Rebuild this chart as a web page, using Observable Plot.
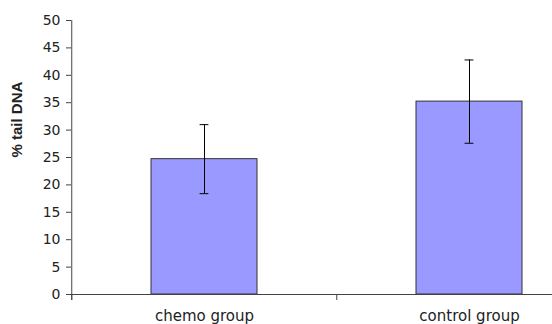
<!DOCTYPE html>
<html>
<head>
<meta charset="utf-8">
<script src="https://cdn.jsdelivr.net/npm/d3@7"></script>
<script src="https://cdn.jsdelivr.net/npm/@observablehq/plot@0.6"></script>
<style>
  html, body { margin: 0; padding: 0; background: white; overflow: hidden; }
</style>
</head>
<body>
<div id="chart"></div>
<script>
const groups = ["chemo group", "control group"];
const means = [24.7, 35.2];
const errors = [6.3, 7.6];
const yTicks = [0, 5, 10, 15, 20, 25, 30, 35, 40, 45, 50];
const yLabel = "% tail DNA";

const data = groups.map((g, i) => ({group: g, mean: means[i], lo: means[i] - errors[i], hi: means[i] + errors[i]}));

const W = 552, H = 324;
const mL = 71, mR = -50, mT = 20, mB = 30;
const paddingInner = 0.6, paddingOuter = 0.3;
const step = (W - mL - mR) / (groups.length - paddingInner + 2 * paddingOuter);
const bandwidth = step * (1 - paddingInner);
const capInset = (bandwidth - 9) / 2;
const yMax = 50;

const chart = Plot.plot({
  width: W,
  height: H,
  marginLeft: mL,
  marginRight: mR,
  marginTop: mT,
  marginBottom: mB,
  style: {fontFamily: "DejaVu Sans", fontSize: "14px", color: "#222", background: "white"},
  x: {domain: groups, paddingInner, paddingOuter, align: 0.5},
  y: {domain: [0, yMax]},
  marks: [
    Plot.barY(data, {x: "group", y: "mean", fill: "#9999ff", stroke: "#333", strokeWidth: 1}),
    Plot.ruleX(data, {x: "group", y1: "lo", y2: "hi", stroke: "#000", strokeWidth: 1}),
    Plot.tickY(data, {x: "group", y: "lo", stroke: "#000", strokeWidth: 1, insetLeft: capInset, insetRight: capInset}),
    Plot.tickY(data, {x: "group", y: "hi", stroke: "#000", strokeWidth: 1, insetLeft: capInset, insetRight: capInset}),
    Plot.ruleY([0], {stroke: "#444", strokeWidth: 1}),
    Plot.ruleX(groups, {x: d => d, y1: 0, y2: -1.1, dx: -step / 2, stroke: "#444", strokeWidth: 1}),
    Plot.ruleX([groups[0]], {x: d => d, y1: -1.1, y2: yMax, dx: -step / 2, stroke: "#444", strokeWidth: 1}),
    Plot.axisY({ticks: yTicks, tickSize: 5, tickPadding: 6, label: null, stroke: "#444", fill: "#222", fontSize: 14}),
    Plot.axisX({tickSize: 0, tickPadding: 16, label: null, fill: "#222", fontSize: 15}),
    Plot.text([yLabel], {frameAnchor: "left", dx: -54, rotate: -90, fontWeight: "bold", fontSize: 15, fontFamily: "Liberation Sans", fill: "#222"})
  ]
});
document.getElementById("chart").appendChild(chart);
</script>
</body>
</html>
